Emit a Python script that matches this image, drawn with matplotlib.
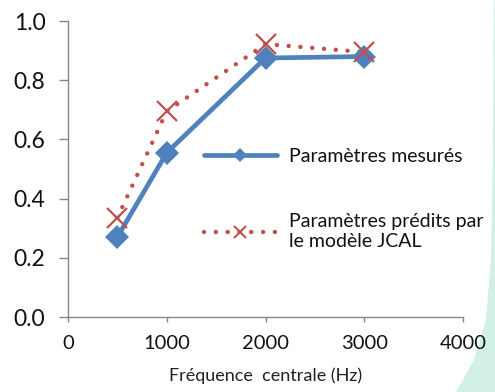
import matplotlib
matplotlib.use("Agg")
import matplotlib.pyplot as plt
from matplotlib.lines import Line2D

freq = [500, 1000, 2000, 3000]
measured = [0.27, 0.555, 0.875, 0.88]
predicted = [0.335, 0.695, 0.922, 0.895]
label_measured = "Paramètres mesurés"
label_predicted = "Paramètres prédits par\nle modèle JCAL"
xlabel = "Fréquence  centrale (Hz)"
xticks = [0, 1000, 2000, 3000, 4000]
yticks = [0.0, 0.2, 0.4, 0.6, 0.8, 1.0]

BLUE = "#4F81BD"
RED = "#C0504D"
GRAY = "#868686"
FONT = ["Lato", "DejaVu Sans"]
plt.rcParams["font.family"] = FONT

W, H = 495, 392
fig = plt.figure(figsize=(W / 100, H / 100), dpi=100, facecolor="white")

# decorative background at right edge
bg = fig.add_axes([0, 0, 1, 1], zorder=-10)
bg.set_xlim(0, W)
bg.set_ylim(H, 0)
bg.axis("off")
verts = [(494, 0), (493, 150), (491, 260), (486, 320), (474, 360), (456, 392), (W, H), (W, 0), (494, 0)]
bg.add_patch(plt.Polygon(verts, closed=True, facecolor="#D2F0E3", edgecolor="none"))

ax = fig.add_axes([68 / W, 1 - 317 / H, 395 / W, 296 / H])
ax.set_xlim(0, 4000)
ax.set_ylim(0, 1.0)
ax.patch.set_alpha(0)

DOT = (0, (0.01, 2.65))
DOT_LW = 3.2

ax.plot(freq, predicted, color=RED, linewidth=DOT_LW, linestyle=DOT,
        dash_capstyle="round", zorder=2)
ax.plot(freq, predicted, linestyle="none", marker="x", markersize=14,
        markeredgewidth=1.6, color=RED, zorder=4)

ax.plot(freq, measured, color=BLUE, linewidth=3.4, marker="D", markersize=12.5,
        markeredgewidth=0, solid_capstyle="round", zorder=3)

for s in ["top", "right"]:
    ax.spines[s].set_visible(False)
for s in ["left", "bottom"]:
    ax.spines[s].set_color(GRAY)
    ax.spines[s].set_linewidth(1.0)

ax.set_xticks(xticks)
ax.set_yticks(yticks)
ax.set_xticklabels([str(v) for v in xticks])
ax.set_yticklabels([f"{v:.1f}" for v in yticks])
ax.tick_params(axis="y", direction="out", length=6.3, width=1.0, color=GRAY,
               labelsize=16.5, pad=10, labelcolor="#111111")
ax.tick_params(axis="x", direction="out", length=3.8, width=1.0, color=GRAY,
               labelsize=14.5, pad=9.5, labelcolor="#111111")
ax.set_xlabel(xlabel, fontsize=13, labelpad=11, color="#222222")

h1 = Line2D([], [], color=BLUE, linewidth=3.4, marker="D", markersize=7,
            markeredgewidth=0, solid_capstyle="round")
h2 = Line2D([], [], color=RED, linewidth=DOT_LW, linestyle=DOT,
            dash_capstyle="round", marker="x", markersize=9, markeredgewidth=1.5)
fig.legend([h1, h2], [label_measured, label_predicted], loc="center left",
           bbox_to_anchor=(204 / W, 1 - 199 / H), frameon=False, borderpad=0,
           borderaxespad=0, fontsize=14, handlelength=3.75, handletextpad=0.62,
           labelspacing=2.45, labelcolor="#111111")

fig.savefig("out.png", dpi=100, facecolor="white")
